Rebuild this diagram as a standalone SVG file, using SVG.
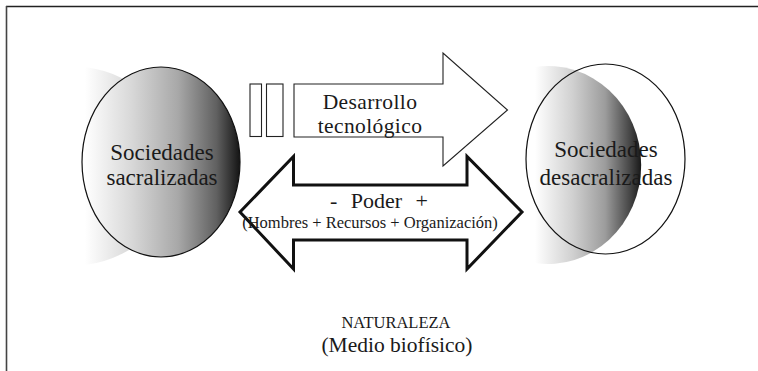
<svg xmlns="http://www.w3.org/2000/svg" width="758" height="371" viewBox="0 0 758 371">
<defs>
<linearGradient id="gL" gradientUnits="userSpaceOnUse" x1="85" y1="0" x2="240" y2="0">
<stop offset="0" stop-color="#ffffff"/>
<stop offset="0.3" stop-color="#d8d8d8"/>
<stop offset="0.6" stop-color="#a8a8a8"/>
<stop offset="0.85" stop-color="#606060"/>
<stop offset="1" stop-color="#141414"/>
</linearGradient>
<linearGradient id="gR" gradientUnits="userSpaceOnUse" x1="535" y1="0" x2="643" y2="0">
<stop offset="0" stop-color="#ffffff"/>
<stop offset="0.35" stop-color="#d0d0d0"/>
<stop offset="0.65" stop-color="#9c9c9c"/>
<stop offset="0.88" stop-color="#454545"/>
<stop offset="1" stop-color="#111111"/>
</linearGradient>
<style>
text{font-family:"Liberation Serif","Times New Roman",serif;fill:#1a1a1a;text-anchor:middle}
.node{font-size:23px}
.arr{font-size:21.5px;letter-spacing:0.4px}
.thin{fill:#fff;stroke:#222;stroke-width:1.1}
.thick{fill:#fff;stroke:#111;stroke-width:3;stroke-linejoin:miter}
.outline{fill:none;stroke:#111;stroke-width:1.2}
</style>
</defs>
<rect width="758" height="371" fill="#fff"/>
<g id="frame">
<line x1="6" y1="6.5" x2="758" y2="6.5" stroke="#222" stroke-width="1.3"/>
<line x1="6.5" y1="6" x2="6.5" y2="371" stroke="#444" stroke-width="1.6"/>
</g>
<g id="node-sacralizadas">
<path d="M85,67 A110,100 0 0 1 85,265 Z" fill="url(#gL)"/>
<ellipse cx="161" cy="162" rx="79" ry="95" fill="url(#gL)" stroke="#111" stroke-width="1.2"/>
<text class="node"><tspan x="162" y="160">Sociedades</tspan><tspan x="162" y="185">sacralizadas</tspan></text>
</g>
<g id="node-desacralizadas">
<path d="M535,67 A93,99 0 1 1 535,263 Z" fill="url(#gR)"/>
<ellipse cx="605.5" cy="159" rx="79.5" ry="95" class="outline"/>
<text class="node"><tspan x="606" y="157">Sociedades</tspan><tspan x="606" y="185">desacralizadas</tspan></text>
</g>
<g id="connectors">
<g id="arrow-desarrollo">
<rect class="thin" x="250" y="84" width="11.5" height="52.5"/>
<rect class="thin" x="266.5" y="84" width="16.5" height="52.5"/>
<path class="thin" d="M294,84 H443 V53 L507.5,110 L443,166 V137 H294 Z"/>
<text class="arr"><tspan x="370" y="108.5">Desarrollo</tspan><tspan x="370" y="132.5">tecnológico</tspan></text>
</g>
<g id="arrow-poder">
<path class="thick" d="M240,212 L293.5,156.5 V185 H467 V156.5 L522,212 L467,269 V240 H293.5 V269 Z"/>
<text><tspan x="379" y="208" font-size="22" word-spacing="8">- Poder +</tspan><tspan x="370" y="228" font-size="16.5">(Hombres + Recursos + Organización)</tspan></text>
</g>
</g>
<g id="label-naturaleza">
<text><tspan x="396" y="328" font-size="16.5">NATURALEZA</tspan><tspan x="397" y="352" font-size="21.5">(Medio biofísico)</tspan></text>
</g>
</svg>
